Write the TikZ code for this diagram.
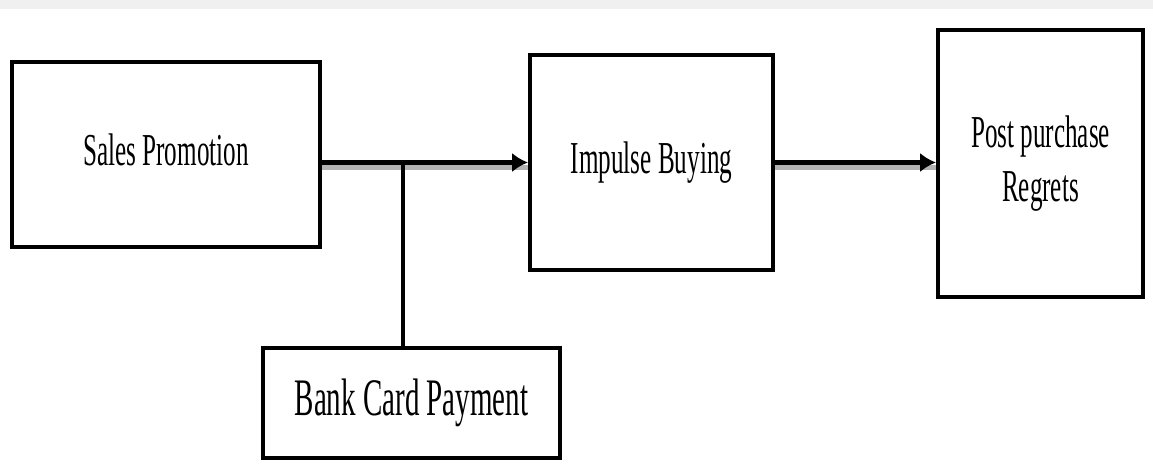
\documentclass[tikz,border=0pt]{standalone}
\usepackage{fontspec}
\setmainfont{Liberation Serif}
\usepackage{graphicx}
\usetikzlibrary{positioning,arrows.meta,calc}

% squeezed serif labels
\newcommand{\narrowtext}[1]{\scalebox{0.55}[1]{\begin{tabular}{@{}c@{}}#1\end{tabular}}}

\begin{document}
\begin{tikzpicture}

% Styles
\tikzset{
    boxstyle/.style={rectangle, draw, line width=2.3pt, fill=white, inner sep=0pt, align=center,
        font=\fontsize{26}{31}\selectfont},
    arrow/.style={-{Latex[length=9pt,width=11pt]}, line width=2.8pt,
        preaction={draw=black!30, line width=3pt, -, transform canvas={yshift=-3pt}}},
    link/.style={-, line width=2.4pt}
}

\useasboundingbox (0,0) rectangle (23.06,9.36);
\fill[black!6] (0,9.18) rectangle (23.06,9.36);

% Boxes
\node[boxstyle, minimum width=6.16cm, minimum height=3.7cm] (sales) at (3.32, 6.27) {\narrowtext{Sales Promotion}};
\node[boxstyle, minimum width=4.86cm, minimum height=4.3cm] (impulse) at (13.03, 6.11) {\narrowtext{Impulse Buying}};
\node[boxstyle, minimum width=4.1cm, minimum height=5.34cm] (regret) at (20.81, 6.09) {\narrowtext{Post purchase\\Regrets}};
\node[boxstyle, minimum width=5.94cm, minimum height=2.2cm, font=\fontsize{30}{36}\selectfont] (bank) at (8.23, 1.30) {\narrowtext{Bank Card Payment}};

% Arrows
\coordinate (join) at (8.06, 6.11);
\draw[arrow] (sales.east |- impulse.west) -- (impulse.west);
\draw[link] (join) -- (join |- bank.north);
\draw[arrow] (impulse.east) -- (regret.west |- impulse.east);

\end{tikzpicture}
\end{document}
